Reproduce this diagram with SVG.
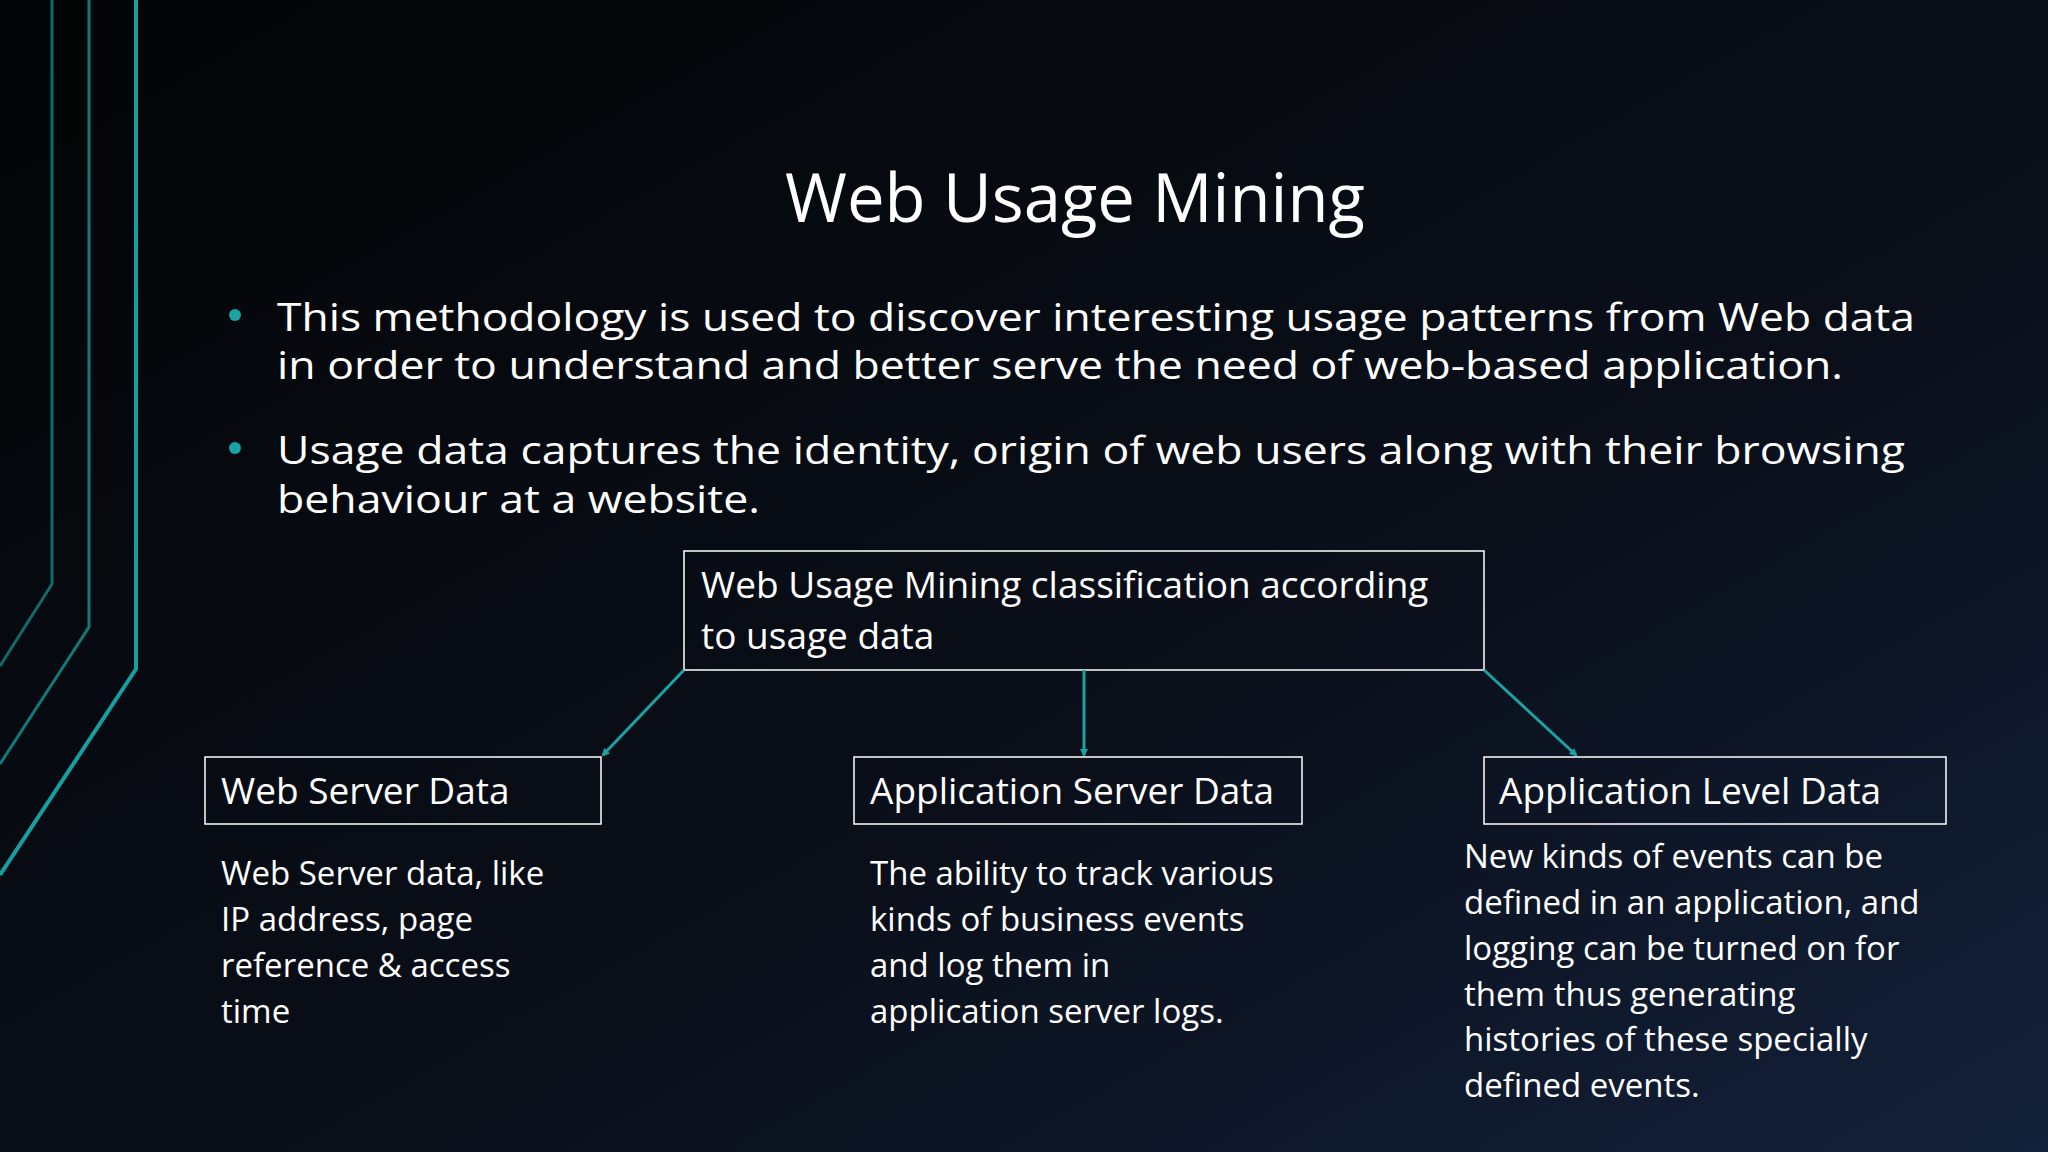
<svg xmlns="http://www.w3.org/2000/svg" width="2048" height="1152" viewBox="0 0 2048 1152">
<defs>
<linearGradient id="bg" x1="0" y1="0" x2="1" y2="1">
<stop offset="0" stop-color="#030405"/><stop offset="0.6" stop-color="#0a0f1a"/><stop offset="1" stop-color="#13213a"/>
</linearGradient>
<marker id="ah" markerWidth="8" markerHeight="8" refX="6" refY="4" orient="auto" markerUnits="userSpaceOnUse"><path d="M0,0 L8,4 L0,8 z" fill="#1aa3a3"/></marker>
<style>
text{font-family:"Open Sans","Noto Sans",sans-serif;fill:#fff}
.b{font-size:39px}.h{font-size:37px}.d{font-size:33px}
.box{fill:none;stroke:#fff;stroke-width:1.5}
.c{stroke:#1aa3a3;stroke-width:3;fill:none;marker-end:url(#ah)}
</style>
</defs>
<rect width="2048" height="1152" fill="url(#bg)"/>
<g fill="none">
<polyline points="52,0 52,584 0,666" stroke="#0e6b6b" stroke-width="3"/>
<polyline points="89,0 89,627 0,764" stroke="#107a7a" stroke-width="3"/>
<polyline points="136,0 136,669 0,875" stroke="#14a0a0" stroke-width="4"/>
</g>
<text x="1075" y="222" text-anchor="middle" font-size="67">Web Usage Mining</text>
<g id="bullets">
<circle cx="235" cy="315" r="6" fill="#1aa3a3"/>
<text class="b" x="277" y="331" textLength="1638" lengthAdjust="spacingAndGlyphs">This methodology is used to discover interesting usage patterns from Web data</text>
<text class="b" x="277" y="379" textLength="1566" lengthAdjust="spacingAndGlyphs">in order to understand and better serve the need of web-based application.</text>
<circle cx="235" cy="448" r="6" fill="#1aa3a3"/>
<text class="b" x="277" y="464" textLength="1628" lengthAdjust="spacingAndGlyphs">Usage data captures the identity, origin of web users along with their browsing</text>
<text class="b" x="277" y="513" textLength="483" lengthAdjust="spacingAndGlyphs">behaviour at a website.</text>
</g>
<g id="root">
<rect class="box" x="684" y="551" width="800" height="119"/>
<text class="h" x="701" y="598">Web Usage Mining classification according</text>
<text class="h" x="701" y="649">to usage data</text>
</g>
<g id="connectors">
<line class="c" x1="684" y1="670" x2="603" y2="755"/>
<line class="c" x1="1084" y1="670" x2="1084" y2="755"/>
<line class="c" x1="1484" y1="670" x2="1576" y2="755"/>
</g>
<g id="webserver">
<rect class="box" x="205" y="757" width="396" height="67"/>
<text class="h" x="221" y="804">Web Server Data</text>
<text class="d" x="221" y="885">Web Server data, like</text>
<text class="d" x="221" y="931">IP address, page</text>
<text class="d" x="221" y="977">reference &amp; access</text>
<text class="d" x="221" y="1023">time</text>
</g>
<g id="appserver">
<rect class="box" x="854" y="757" width="448" height="67"/>
<text class="h" x="870" y="804">Application Server Data</text>
<text class="d" x="870" y="885">The ability to track various</text>
<text class="d" x="870" y="931">kinds of business events</text>
<text class="d" x="870" y="977">and log them in</text>
<text class="d" x="870" y="1023">application server logs.</text>
</g>
<g id="applevel">
<rect class="box" x="1484" y="757" width="462" height="67"/>
<text class="h" x="1499" y="804">Application Level Data</text>
<text class="d" x="1464" y="868">New kinds of events can be</text>
<text class="d" x="1464" y="914">defined in an application, and</text>
<text class="d" x="1464" y="960">logging can be turned on for</text>
<text class="d" x="1464" y="1006">them thus generating</text>
<text class="d" x="1464" y="1051">histories of these specially</text>
<text class="d" x="1464" y="1097">defined events.</text>
</g>
</svg>
